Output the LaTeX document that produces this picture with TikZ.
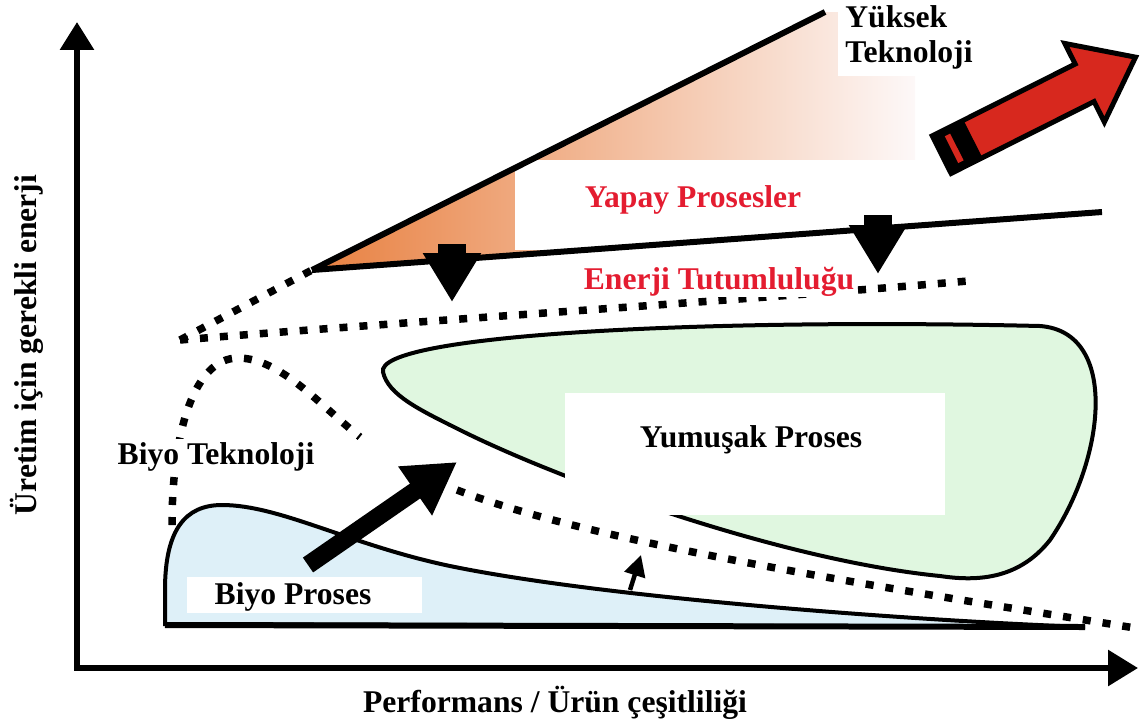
\documentclass[tikz,border=0pt]{standalone}
\usepackage{fontspec}
\setmainfont{Liberation Serif}
\usepackage{tikz}
\usetikzlibrary{arrows.meta,positioning}
\definecolor{hot}{RGB}{232,128,64}
\definecolor{warm}{RGB}{244,196,184}
\definecolor{pale}{RGB}{253,248,248}
\definecolor{soft}{RGB}{224,247,224}
\definecolor{bio}{RGB}{222,240,248}
\definecolor{lbl}{RGB}{228,28,48}
\definecolor{flag}{RGB}{215,40,30}

\begin{document}
\begin{tikzpicture}[x=0.02cm,y=-0.02cm,
  every node/.style={font=\fontsize{18}{20}\selectfont\bfseries},
  dotline/.style={line width=0.15cm,dash pattern=on 0.16cm off 0.24cm},
  rim/.style={line width=0.08cm},
  edge/.style={line width=0.12cm},
  drop/.style={line width=0.56cm,-{Triangle[length=0.98cm,width=1.1cm]}},
  axis/.style={line width=0.12cm,line join=miter}]
  \useasboundingbox (0,0) rectangle (1145,724);
  \coordinate (w) at (312,270);
  \coordinate (wtop) at (825,12);
  \coordinate (wlow) at (1102,212);
  % wedge of the high technology
  \shade[left color=hot,middle color=warm,right color=pale] (w) -- (wtop) -- (915,12) -- (915,228) -- cycle;
  \fill[white] (515,160) rectangle (920,250);
  % soft process
  \draw[rim,fill=soft] (383,372) .. controls (375,335) and (700,318) .. (1040,326)
    .. controls (1120,332) and (1105,460) .. (1050,540)
    .. controls (1020,578) and (980,582) .. (940,576)
    .. controls (780,560) and (560,480) .. (460,430)
    .. controls (420,410) and (388,395) .. (383,372) -- cycle;
  \fill[white] (565,393) rectangle (945,515);
  % bio process
  \draw[rim,fill=bio] (165,624) -- (165,590) .. controls (165,530) and (185,505) .. (222,505)
    .. controls (280,505) and (350,545) .. (450,566)
    .. controls (600,597) and (900,620) .. (1085,627) -- cycle;
  \draw[edge] (165,625) -- (1085,627);
  \fill[white] (187,577) rectangle (422,613);
  % dotted limits
  \coordinate (e) at (180,340);
  \draw[dotline] (e) -- (w);
  \draw[dotline] (e) .. controls (400,322) and (750,300) .. (968,281);
  \draw[dotline] (172,525) .. controls (172,430) and (195,358) .. (238,358) .. controls (280,358) and (320,405) .. (360,437);
  \draw[dotline] (457,490) .. controls (600,545) and (900,590) .. (1135,628);
  % wedge lines and drops
  \draw[edge] (w) -- (wtop);
  \draw[edge] (w) -- (wlow);
  \draw[drop] (452,244) -- (452,302);
  \draw[drop] (878,215) -- (878,274);
  \draw[line width=0.36cm,-{Triangle[length=1.02cm,width=1.12cm]}] (308,565) -- (457,462);
  \draw[line width=0.09cm,-{Triangle[length=0.42cm,width=0.42cm]}] (630,590) -- (641,555);
  % red arrow
  \begin{scope}[shift={(939,156)},rotate=26.7]
    \draw[line width=0.1cm,fill=flag,line join=miter] (3,-21) -- (163,-21) -- (163,-44) -- (220,0) -- (163,44) -- (163,21) -- (3,21) -- cycle;
    \fill (3,-21) rectangle (38,21);
    \fill[flag] (14,-15) rectangle (20,15);
  \end{scope}
  % labels
  \node[anchor=north west,align=left,fill=white,inner sep=4pt] (yt) at (838,-2) {Yüksek\\Teknoloji};
  \node[text=lbl] (yp) at (693,200) {Yapay Prosesler};
  \node[text=lbl,fill=white,inner sep=0pt] (et) at (719,282) {Enerji Tutumluluğu};
  \node (ys) at (751,440) {Yumuşak Proses};
  \node[fill=white,inner sep=2pt] (bt) at (216,457) {Biyo Teknoloji};
  \node (bp) at (293,597) {Biyo Proses};
  % axes
  \coordinate (o) at (77,668);
  \draw[axis,{Triangle[length=0.56cm,width=0.66cm]}-{Triangle[length=0.6cm,width=0.7cm]}] (77,22) -- (o) -- (1138,668);
  \node[rotate=90] (ylab) at (27,345) {Üretim için gerekli enerji};
  \node (xlab) at (555,703) {Performans / Ürün çeşitliliği};
\end{tikzpicture}
\end{document}
